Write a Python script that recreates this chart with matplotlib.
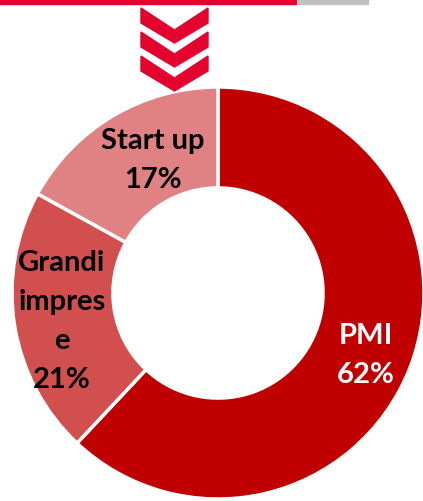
import numpy as np
import matplotlib
matplotlib.use('Agg')
import matplotlib.pyplot as plt
from matplotlib.patches import Polygon, Rectangle

W, H = 423, 502

categories = ['PMI', 'Grandi\nimpres\ne', 'Start up']
shares = [62, 21, 17]
colors = ['#C00000', '#D24F50', '#E08283']
text_colors = ['white', 'black', 'black']
label_dist = [0.775, 0.77, 0.72]
label_turn = [-0.9, 1.0, -4.5]   # degrees away from wedge middle

plt.rcParams['font.family'] = ['Lato', 'DejaVu Sans']

fig = plt.figure(figsize=(W / 100, H / 100), dpi=100)

# donut: centre (218, 294) px, outer radius 206 px
R = 206
cx, cy = 218, 294
ax = fig.add_axes([(cx - R) / W, (H - cy - R) / H, 2 * R / W, 2 * R / H])
wedges, texts = ax.pie(shares, colors=colors, startangle=90, counterclock=False,
                       radius=1.0,
                       wedgeprops=dict(width=0.49, edgecolor='white', linewidth=2.5),
                       labels=[f'{c}\n{v}%' for c, v in zip(categories, shares)],
                       labeldistance=0.76)
for w, t, tc, d, a in zip(wedges, texts, text_colors, label_dist, label_turn):
    ang = np.deg2rad((w.theta1 + w.theta2) / 2 + a)
    t.set_position((d * np.cos(ang), d * np.sin(ang)))
    t.set_ha('center')
    t.set_va('center')
    t.set_color(tc)
    t.set_fontsize(21)
    t.set_fontweight('bold')
    t.set_linespacing(1.62)
ax.set_xlim(-1, 1)
ax.set_ylim(-1, 1)
ax.axis('off')

# header bar
fig.patches.append(Rectangle((0, 1 - 5 / H), 296 / W, 5 / H, transform=fig.transFigure,
                             color='#E4032E', zorder=0))
fig.patches.append(Rectangle((298 / W, 1 - 5 / H), 70 / W, 5 / H, transform=fig.transFigure,
                             color='#BFBFBF', zorder=0))

# three chevrons pointing down
x0, x1 = 141, 208
xm = (x0 + x1) / 2
for i in range(3):
    top = 9 + 24 * i
    pts = [(x0, top), (xm, top + 22), (x1, top), (x1, top + 15), (xm, top + 35), (x0, top + 15)]
    pts = [(px / W, 1 - py / H) for px, py in pts]
    fig.patches.append(Polygon(pts, closed=True, transform=fig.transFigure,
                               color='#E4032E', zorder=5))

fig.savefig('out.png', dpi=100)
